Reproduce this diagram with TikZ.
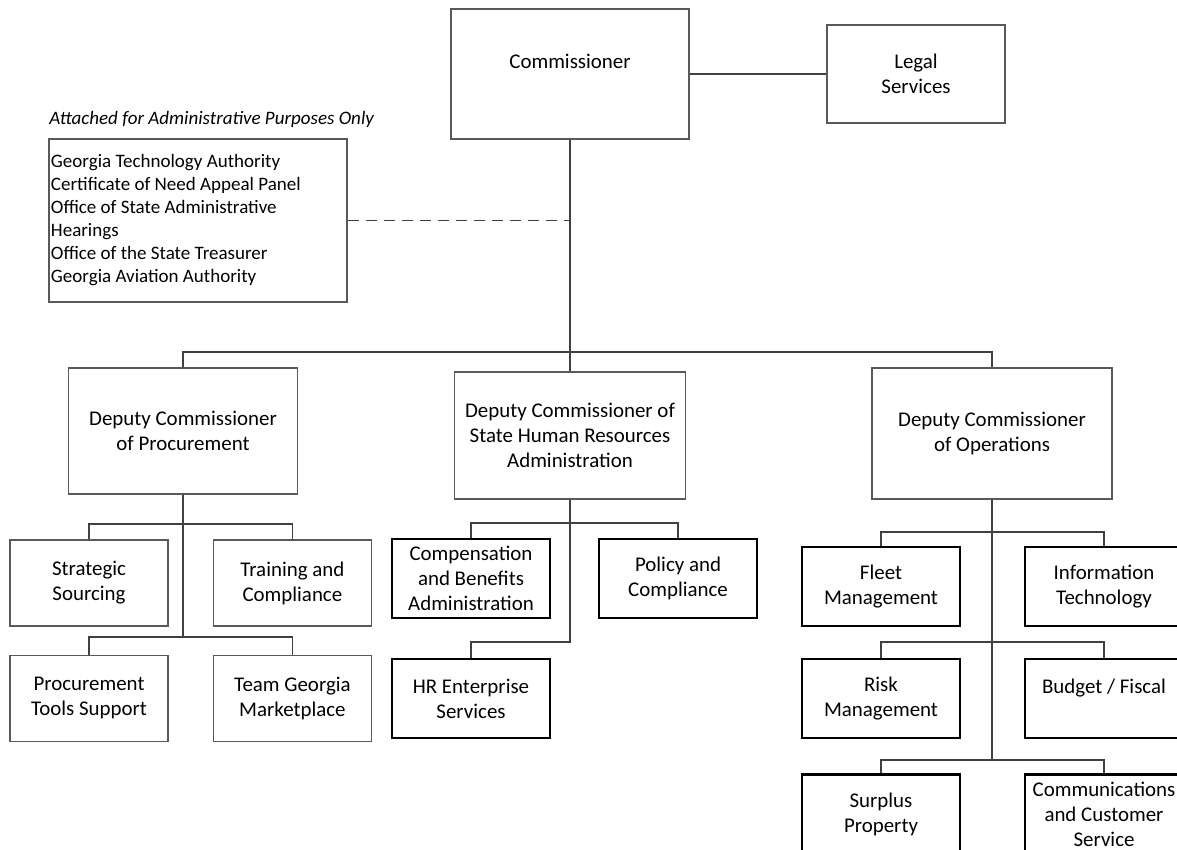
\documentclass[tikz,border=0pt]{standalone}
\usepackage{fontspec}
\setmainfont{Carlito}
\usetikzlibrary{positioning}

\begin{document}
\begin{tikzpicture}[
    x=0.526pt, y=-0.526pt,
    box/.style={draw=black!65, line width=0.8pt, rectangle, align=center, inner sep=1pt, font=\fontsize{11}{13.2}\selectfont},
    head/.style={box, minimum width=121pt, minimum height=67pt},
    unit/.style={box, minimum width=83.1pt, minimum height=45.2pt},
    unitb/.style={box, draw=black, line width=1.1pt, minimum width=83.1pt, minimum height=41.6pt},
    link/.style={draw=black!75, line width=0.9pt},
    attach/.style={link, dash pattern=on 5.8pt off 3.7pt}
]
\useasboundingbox (0,0) rectangle (1177,850);
\clip (0,0) rectangle (1177,850);

\node[box, minimum width=125.2pt, minimum height=68.4pt] (comm) at (570,74) {Commissioner\\~};
\node[box, minimum width=93.6pt, minimum height=51.5pt] (legal) at (916,74) {Legal\\Services};
\node[anchor=west, inner sep=0pt, font=\fontsize{10}{12.1}\selectfont\itshape] (atttitle) at (49,119) {Attached for Administrative Purposes Only};
\node[box, minimum width=156.7pt, minimum height=85.7pt, text width=154.7pt, align=flush left, font=\fontsize{10}{12.1}\selectfont] (att) at (198,220.5) {Georgia Technology Authority\\Certificate of Need Appeal Panel\\Office of State Administrative\\Hearings\\Office of the State Treasurer\\Georgia Aviation Authority};

\node[head, minimum width=120.5pt, minimum height=66.3pt] (dp) at (183,431) {Deputy Commissioner\\of Procurement};
\node[head, minimum width=121.5pt, minimum height=66.8pt] (dhr) at (570,435.5) {Deputy Commissioner of\\State Human Resources\\Administration};
\node[head, minimum width=126.2pt, minimum height=68.9pt] (dops) at (992,433.5) {Deputy Commissioner\\of Operations};

\node[unit] (ss) at (89,583) {Strategic\\Sourcing};
\node[unit, right=23.1pt of ss] (tc) {Training and\\Compliance};
\node[unit, below=14.7pt of ss] (pts) {Procurement\\Tools Support};
\node[unit, right=23.1pt of pts] (tgm) {Team Georgia\\Marketplace};

\node[unitb] (cba) at (471,578.5) {Compensation\\and Benefits\\Administration};
\node[unitb, right=24.7pt of cba] (pc) {Policy and\\Compliance};
\node[unitb, below=20.5pt of cba] (hre) {HR Enterprise\\Services};

\node[unitb] (fm) at (881,586.5) {Fleet\\Management};
\node[unitb, right=33.1pt of fm] (it) {Information\\Technology};
\node[unitb, below=16.3pt of fm] (rm) {Risk\\Management};
\node[unitb, right=33.1pt of rm] (bf) {Budget / Fiscal\\~};
\node[unitb, below=18pt of rm] (sp) {Surplus\\Property};
\node[unitb, right=33.1pt of sp] (ccs) {Communications\\and Customer\\Service};

\coordinate (tb) at (570,352);
\coordinate (dj) at (570,220.5);
\coordinate (pb1) at (183,524);
\coordinate (pb2) at (183,637);
\coordinate (hb1) at (570,523);
\coordinate (hb2) at (570,642);
\coordinate (ob1) at (992,532);
\coordinate (ob2) at (992,642);
\coordinate (ob3) at (992,760);

\draw[link] (comm) -- (legal);
\draw[link] (comm) -- (dhr);
\draw[attach] (att) -- (dj);
\draw[link] (dp.north) |- (tb) -| (dops.north);

\draw[link] (dp) -- (pb2);
\draw[link] (ss.north) |- (pb1) -| (tc.north);
\draw[link] (pts.north) |- (pb2) -| (tgm.north);

\draw[link] (dhr) -- (hb2) -| (hre.north);
\draw[link] (cba.north) |- (hb1) -| (pc.north);

\draw[link] (dops) -- (ob3);
\draw[link] (fm.north) |- (ob1) -| (it.north);
\draw[link] (rm.north) |- (ob2) -| (bf.north);
\draw[link] (sp.north) |- (ob3) -| (ccs.north);
\end{tikzpicture}
\end{document}
